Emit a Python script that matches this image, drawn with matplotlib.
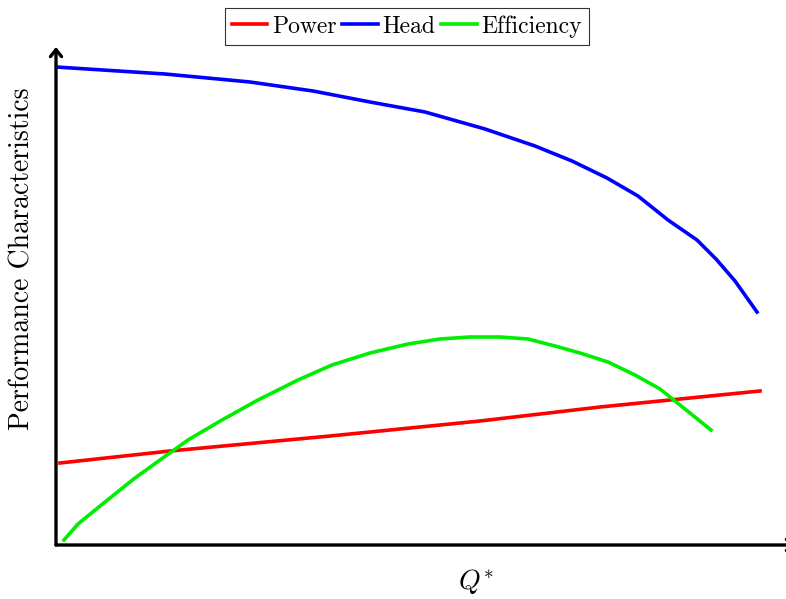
import numpy as np
import matplotlib.pyplot as plt

plt.rcParams['font.family'] = 'serif'
plt.rcParams['font.serif'] = ['cmr10']
plt.rcParams['mathtext.fontset'] = 'cm'
plt.rcParams['axes.formatter.use_mathtext'] = True

# curves (arbitrary units)
head_q = [0, 1.09, 1.94, 2.57, 3.14, 3.69, 4.29, 4.79, 5.16, 5.51, 5.82, 6.12, 6.41, 6.60, 6.79, 7.01]
head_h = [4.78, 4.71, 4.63, 4.54, 4.43, 4.33, 4.16, 3.99, 3.84, 3.67, 3.49, 3.25, 3.05, 2.86, 2.64, 2.33]

power_q = [0.04, 1.14, 2.74, 4.24, 5.44, 7.04]
power_p = [0.82, 0.94, 1.09, 1.24, 1.38, 1.54]

eff_q = [0.08, 0.22, 0.49, 0.79, 1.04, 1.32, 1.66, 2.02, 2.42, 2.76, 3.14, 3.52,
         3.84, 4.14, 4.44, 4.72, 4.99, 5.24, 5.52, 5.79, 6.04, 6.24, 6.55]
eff_e = [0.05, 0.21, 0.43, 0.67, 0.85, 1.05, 1.25, 1.45, 1.65, 1.80, 1.92, 2.01,
         2.06, 2.08, 2.08, 2.06, 1.99, 1.92, 1.83, 1.70, 1.56, 1.40, 1.15]

W, H = 786, 599
fig = plt.figure(figsize=(W / 100, H / 100), dpi=100)
x0, y0, x1, y1 = 56, 545, 796, 47
ax = fig.add_axes([x0 / W, 1 - y0 / H, (x1 - x0) / W, (y0 - y1) / H])
ax.set_xlim(0, (x1 - x0) / 100)
ax.set_ylim(0, (y0 - y1) / 100)

ax.plot(power_q, power_p, color='red', lw=2.6, label='Power')
ax.plot(head_q, head_h, color='blue', lw=2.6, label='Head')
ax.plot(eff_q, eff_e, color='#00ee00', lw=2.6, label='Efficiency')

for s in ax.spines.values():
    s.set_visible(False)
ax.set_xticks([])
ax.set_yticks([])

# axis arrows
arrow = dict(arrowstyle='->,head_length=0.5,head_width=0.4', lw=2.4,
             color='black', shrinkA=0, shrinkB=0)
ax.annotate('', xy=(1, 0), xytext=(0, 0), xycoords='axes fraction', arrowprops=arrow)
ax.annotate('', xy=(0, 1), xytext=(0, 0), xycoords='axes fraction', arrowprops=arrow)

fig.text(22 / W, 1 - 259 / H, 'Performance Characteristics', rotation=90,
         ha='center', va='center', fontsize=20)
fig.text(476 / W, 1 - 582 / H, r'$Q^{*}$', ha='center', va='center', fontsize=20)

leg = fig.legend(loc='upper center', bbox_to_anchor=(407 / W, 1 - 8 / H), ncol=3,
                 fontsize=17, frameon=True, fancybox=False, edgecolor='black',
                 handlelength=1.5, handletextpad=0.2, columnspacing=0.25,
                 borderpad=0.3, borderaxespad=0)
leg.get_frame().set_linewidth(0.8)

fig.savefig('out.png', dpi=100)
